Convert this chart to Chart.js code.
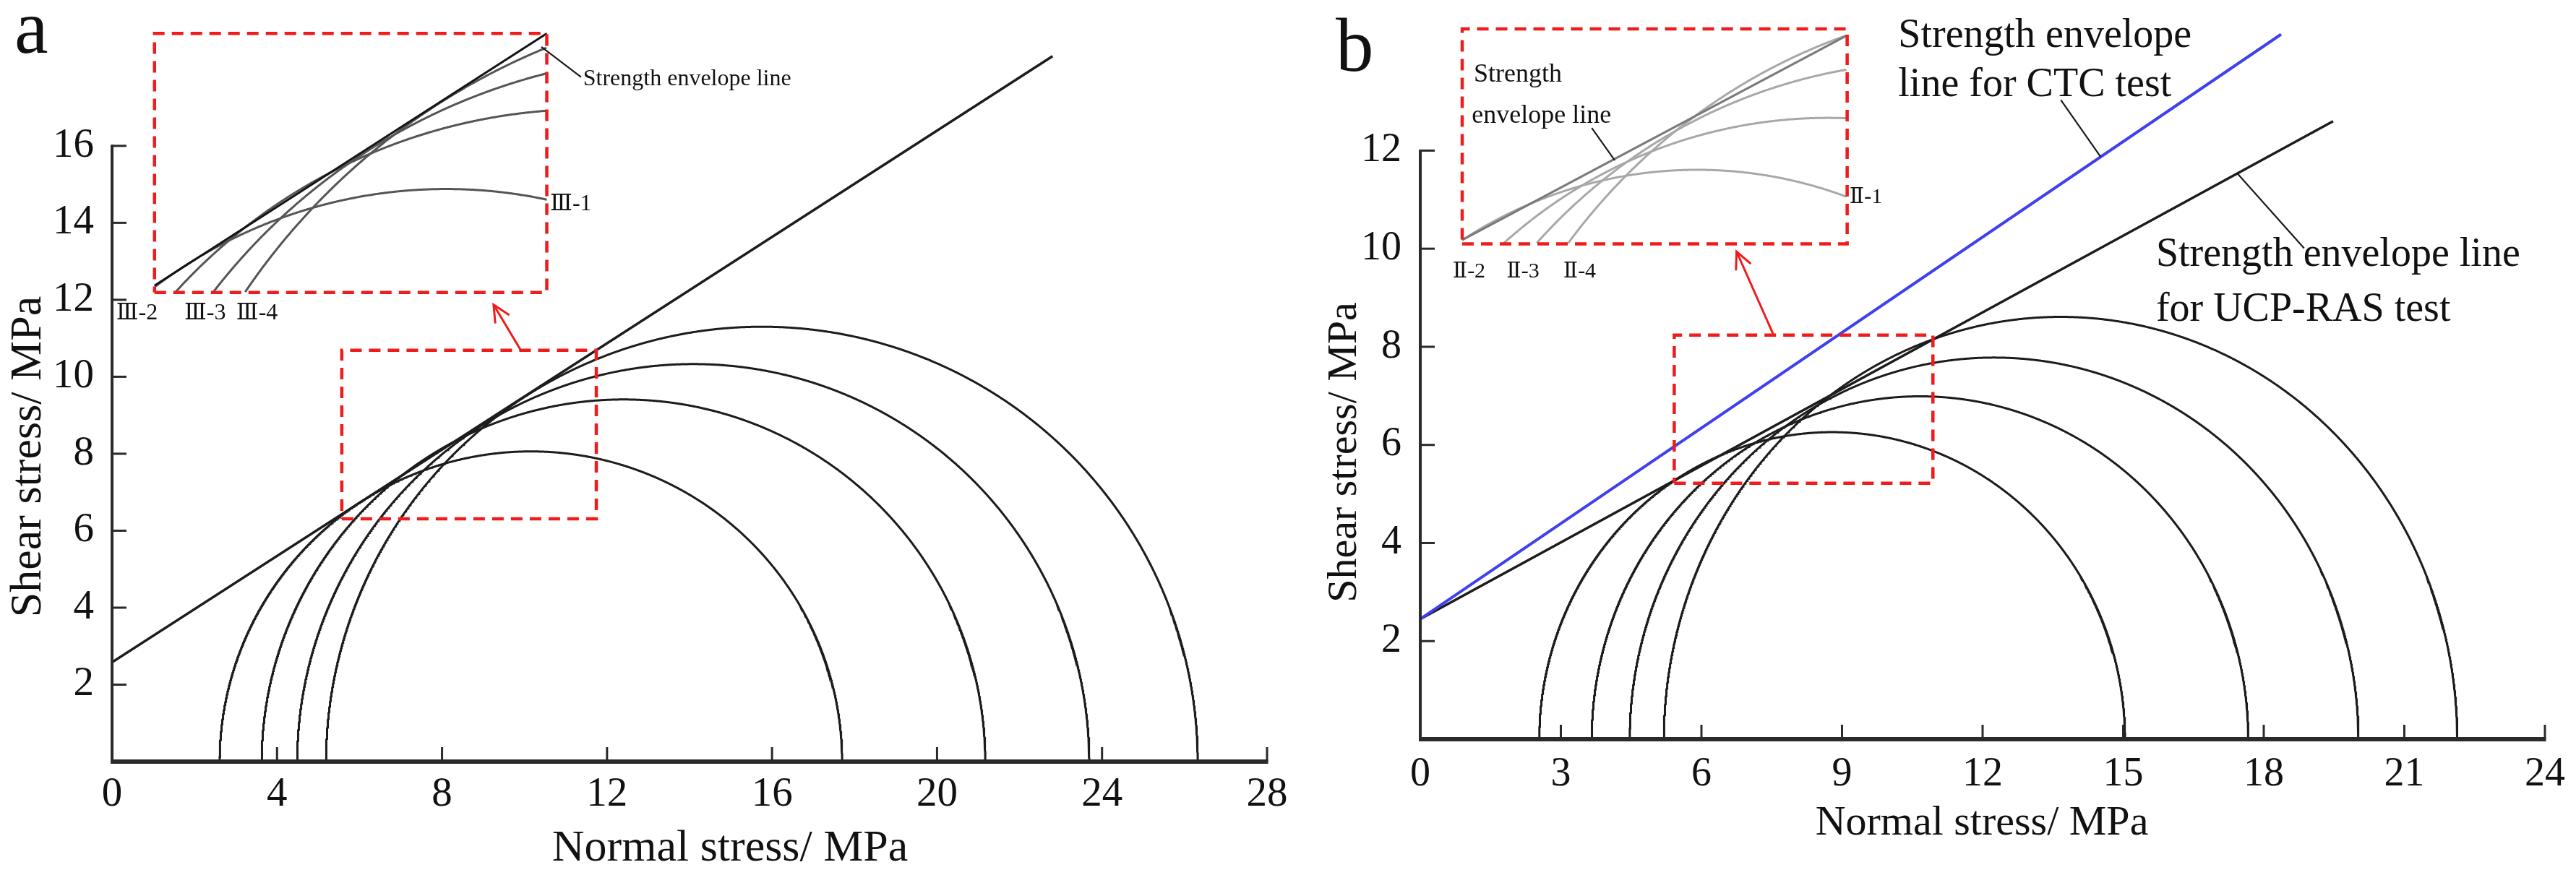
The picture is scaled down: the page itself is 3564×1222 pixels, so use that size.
<!DOCTYPE html>
<html>
<head>
<meta charset="utf-8">
<script src="https://cdn.jsdelivr.net/npm/chart.js@4.4.0/dist/chart.umd.min.js"></script>
<style>
  html, body { margin: 0; padding: 0; background: #fff; }
  #wrap { position: relative; width: 3564px; height: 1222px; }
  .panel { position: absolute; top: 0; width: 1782px; height: 1222px; }
</style>
</head>
<body>
<div id="wrap">
  <div class="panel" style="left:0"><canvas id="js-mohr-a"></canvas></div>
  <div class="panel" style="left:1782px"><canvas id="js-mohr-b"></canvas></div>
</div>
<script>
"use strict";

//パネルaのデータ
const xTicksA = [0, 4, 8, 12, 16, 20, 24, 28];
const yTicksA = [2, 4, 6, 8, 10, 12, 14, 16];
const sigma3A = [2.61, 3.63, 4.49, 5.19];
const sigma1A = [17.70, 21.17, 23.69, 26.32];
const tauPeakA = [8.06, 9.41, 10.33, 11.30];
const envelopeA = [[0, 2.58], [22.8, 18.33]];
const zoomBoxA = [5.57, 11.74, 6.31, 10.69]; // x0, x1, y0, y1
const insetBoxA = [1.03, 10.54, 12.19, 18.92];

//パネルbのデータ
const xTicksB = [0, 3, 6, 9, 12, 15, 18, 21, 24];
const yTicksB = [2, 4, 6, 8, 10, 12];
const sigma3B = [2.54, 3.66, 4.47, 5.20];
const sigma1B = [15.04, 17.67, 20.02, 22.13];
const tauPeakB = [6.26, 6.99, 7.78, 8.61];
const envelopeCTC = [[0, 2.45], [18.37, 14.37]];
const envelopeUCP = [[0, 2.45], [19.48, 12.60]];
const zoomBoxB = [5.42, 10.94, 5.22, 8.24];
const insetBoxB = [0.895, 9.11, 10.1, 14.48];

const SERIF = '"Liberation Serif", "Times New Roman", "DejaVu Serif", "Noto Sans CJK SC", serif';
const RED = "#ee1c1c";

// semicircle of a Mohr circle (sigma3 .. sigma1, height = peak)
function mohrArc(s3, s1, peak) {
  const c = (s1 + s3) / 2;
  const a = (s1 - s3) / 2;
  const pts = [];
  for (let i = 0; i <= 1440; i++) {
    const t = (Math.PI * i) / 1440;
    pts.push({ x: c - a * Math.cos(t), y: peak * Math.sin(t) });
  }
  return pts;
}

// Liang-Barsky clip of a segment to a box
function clipSegment(p, q, box) {
  let t0 = 0, t1 = 1;
  const dx = q[0] - p[0], dy = q[1] - p[1];
  const checks = [[-dx, p[0] - box[0]], [dx, box[1] - p[0]], [-dy, p[1] - box[2]], [dy, box[3] - p[1]]];
  for (const [pp, qq] of checks) {
    if (pp === 0) { if (qq < 0) return []; continue; }
    const r = qq / pp;
    if (pp < 0) { if (r > t1) return []; if (r > t0) t0 = r; }
    else { if (r < t0) return []; if (r < t1) t1 = r; }
  }
  return [{ x: p[0] + t0 * dx, y: p[1] + t0 * dy }, { x: p[0] + t1 * dx, y: p[1] + t1 * dy }];
}

// zoom: points inside "from" box are copied into "to" box
function mapToInset(pts, from, to) {
  const kx = (to[1] - to[0]) / (from[1] - from[0]);
  const ky = (to[3] - to[2]) / (from[3] - from[2]);
  const e = 1e-9;
  const out = [];
  pts.forEach((p) => {
    const inside = p.x >= from[0] - e && p.x <= from[1] + e && p.y >= from[2] - e && p.y <= from[3] + e;
    if (inside) {
      out.push({ x: to[0] + (p.x - from[0]) * kx, y: to[2] + (p.y - from[2]) * ky });
    } else if (out.length && !isNaN(out[out.length - 1].x)) {
      out.push({ x: NaN, y: NaN });
    }
  });
  return out;
}

function boxPath(b) {
  return [
    { x: b[0], y: b[2] }, { x: b[1], y: b[2] }, { x: b[1], y: b[3] },
    { x: b[0], y: b[3] }, { x: b[0], y: b[2] },
  ];
}

function toPts(arr) {
  return arr.map((p) => ({ x: p[0], y: p[1] }));
}

function lineSet(data, color, width, dash) {
  return {
    data: data,
    showLine: true,
    borderColor: color,
    borderWidth: width,
    borderDash: dash || [],
    borderCapStyle: "butt",
    pointRadius: 0,
    pointHoverRadius: 0,
    tension: 0,
    fill: false,
  };
}

function makeMohrChart(canvasId, p) {
  const arcs = p.s3.map((s, i) => mohrArc(s, p.s1[i], p.peak[i]));
  const datasets = [];
  datasets.push(lineSet(boxPath(p.zoomBox), RED, 4.5, [16, 10]));
  datasets.push(lineSet(boxPath(p.insetBox), RED, 4.5, [16, 10]));
  datasets.push(lineSet(toPts(p.arrow), RED, 3));
  p.leaders.forEach((l) => datasets.push(lineSet(toPts(l), "#1a1a1a", 2.2)));
  p.envelopes.forEach((env) => {
    const seg = clipSegment(env.pts[0], env.pts[1], p.zoomBox);
    if (env.inset) datasets.push(lineSet(mapToInset(seg, p.zoomBox, p.insetBox), env.insetColor, 3));
  });
  arcs.forEach((arc) => datasets.push(lineSet(mapToInset(arc, p.zoomBox, p.insetBox), p.insetArcColor, 3)));
  p.envelopes.forEach((env) => datasets.push(lineSet(toPts(env.pts), env.color, env.width)));
  arcs.forEach((arc) => datasets.push(lineSet(arc, "#1c1c1c", 3)));

  const mohrDecor = {
    id: "mohrDecor",
    afterDatasetsDraw(chart) {
      const ctx = chart.ctx;
      const x = chart.scales.x;
      const y = chart.scales.y;
      const x0 = x.getPixelForValue(p.xTicks[0]);
      const x1 = x.getPixelForValue(p.xTicks[p.xTicks.length - 1]);
      const y0 = y.getPixelForValue(0);
      const yTop = y.getPixelForValue(p.yTicks[p.yTicks.length - 1]);
      ctx.save();
      ctx.strokeStyle = "#2a2a2a";
      //軸
      ctx.lineWidth = 4;
      ctx.beginPath();
      ctx.moveTo(x0, y0);
      ctx.lineTo(x0, yTop - 1.5);
      ctx.stroke();
      ctx.lineWidth = 6;
      ctx.beginPath();
      ctx.moveTo(x0 - 2, y0);
      ctx.lineTo(x1 + 1.5, y0);
      ctx.stroke();
      //目盛り(内向き)
      ctx.lineWidth = 3;
      p.xTicks.forEach((v) => {
        const px = x.getPixelForValue(v);
        ctx.beginPath();
        ctx.moveTo(px, y0);
        ctx.lineTo(px, y0 - 20);
        ctx.stroke();
      });
      p.yTicks.forEach((v) => {
        const py = y.getPixelForValue(v);
        ctx.beginPath();
        ctx.moveTo(x0, py);
        ctx.lineTo(x0 + 20, py);
        ctx.stroke();
      });
      //矢印の先
      const ax0 = x.getPixelForValue(p.arrow[0][0]);
      const ay0 = y.getPixelForValue(p.arrow[0][1]);
      const ax1 = x.getPixelForValue(p.arrow[1][0]);
      const ay1 = y.getPixelForValue(p.arrow[1][1]);
      const ang = Math.atan2(ay1 - ay0, ax1 - ax0);
      ctx.strokeStyle = RED;
      ctx.lineWidth = 3;
      ctx.beginPath();
      ctx.moveTo(ax1 - 26 * Math.cos(ang - 0.45), ay1 - 26 * Math.sin(ang - 0.45));
      ctx.lineTo(ax1, ay1);
      ctx.lineTo(ax1 - 26 * Math.cos(ang + 0.45), ay1 - 26 * Math.sin(ang + 0.45));
      ctx.stroke();
      ctx.restore();
    },
    afterDraw(chart) {
      const ctx = chart.ctx;
      const x = chart.scales.x;
      const y = chart.scales.y;
      ctx.save();
      ctx.fillStyle = "#111";
      ctx.textAlign = "left";
      p.notes.forEach((n) => {
        ctx.font = (n.bold ? "bold " : "") + n.size + "px " + SERIF;
        ctx.textBaseline = n.baseline || "middle";
        ctx.fillText(n.text, x.getPixelForValue(n.x), y.getPixelForValue(n.y));
      });
      //軸タイトル
      ctx.textAlign = "center";
      ctx.textBaseline = "middle";
      ctx.font = p.xTitle.size + "px " + SERIF;
      ctx.fillText(p.xTitle.text, p.xTitle.x, p.xTitle.y);
      ctx.save();
      ctx.translate(p.yTitle.x, p.yTitle.y);
      ctx.rotate(-Math.PI / 2);
      ctx.font = p.yTitle.size + "px " + SERIF;
      ctx.fillText(p.yTitle.text, 0, 0);
      ctx.restore();
      ctx.textAlign = "left";
      ctx.textBaseline = "alphabetic";
      ctx.font = p.letter.size + "px " + SERIF;
      ctx.fillText(p.letter.text, p.letter.x, p.letter.y);
      ctx.restore();
    },
  };

  const ctx = document.getElementById(canvasId).getContext("2d");
  return new Chart(ctx, {
    type: "scatter",
    data: { datasets: datasets },
    options: {
      responsive: true,
      maintainAspectRatio: false,
      animation: false,
      devicePixelRatio: 1,
      events: [],
      layout: { padding: { left: 0, right: p.padRight, top: 0, bottom: 0 } },
      plugins: {
        legend: { display: false },
        tooltip: { enabled: false },
      },
      scales: {
        x: {
          type: "linear",
          min: p.xTicks[0],
          max: p.xTicks[p.xTicks.length - 1],
          afterBuildTicks: (s) => { s.ticks = p.xTicks.map((v) => ({ value: v })); },
          afterFit: (s) => { s.height = p.xAxisHeight; s.paddingLeft = 0; s.paddingRight = 0; },
          grid: { display: false },
          border: { display: false },
          ticks: {
            font: { family: SERIF, size: p.tickSize },
            color: "#111",
            padding: p.xPad,
            maxRotation: 0,
            autoSkip: false,
          },
        },
        y: {
          type: "linear",
          min: 0,
          max: p.yMax,
          afterBuildTicks: (s) => { s.ticks = p.yTicks.map((v) => ({ value: v })); },
          afterFit: (s) => { s.width = p.yAxisWidth; s.paddingTop = 0; s.paddingBottom = 0; },
          grid: { display: false },
          border: { display: false },
          ticks: {
            font: { family: SERIF, size: p.tickSize },
            color: "#111",
            padding: p.yPad,
            autoSkip: false,
          },
        },
      },
    },
    plugins: [mohrDecor],
  });
}

makeMohrChart("js-mohr-a", {
  xTicks: xTicksA, yTicks: yTicksA, yMax: 19.79,
  yAxisWidth: 155, xAxisHeight: 168, padRight: 29,
  tickSize: 57, xPad: 4, yPad: 17,
  s3: sigma3A, s1: sigma1A, peak: tauPeakA,
  envelopes: [{ pts: envelopeA, color: "#1c1c1c", width: 3.5, inset: true, insetColor: "#141414" }],
  zoomBox: zoomBoxA, insetBox: insetBoxA, insetArcColor: "#555555",
  arrow: [[9.91, 10.69], [9.25, 11.87]],
  leaders: [[[10.41, 18.57], [11.37, 17.79]]],
  notes: [
    { text: "Strength envelope line", x: 11.42, y: 17.73, size: 32 },
    { text: "Ⅲ-1", x: 10.62, y: 14.48, size: 32 },
    { text: "Ⅲ-2", x: 0.1, y: 11.65, size: 32 },
    { text: "Ⅲ-3", x: 1.75, y: 11.65, size: 32 },
    { text: "Ⅲ-4", x: 3.01, y: 11.65, size: 32 },
  ],
  xTitle: { text: "Normal stress/ MPa", x: 1010, y: 1175, size: 62 },
  yTitle: { text: "Shear stress/ MPa", x: 40, y: 632, size: 62 },
  letter: { text: "a", x: 20, y: 73, size: 105 },
});

makeMohrChart("js-mohr-b", {
  xTicks: xTicksB, yTicks: yTicksB, yMax: 15.07,
  yAxisWidth: 183, xAxisHeight: 199, padRight: 43,
  tickSize: 56, xPad: 8, yPad: 18,
  s3: sigma3B, s1: sigma1B, peak: tauPeakB,
  envelopes: [
    { pts: envelopeCTC, color: "#4040ee", width: 4, inset: false },
    { pts: envelopeUCP, color: "#1c1c1c", width: 3.5, inset: true, insetColor: "#7a7a7a" },
  ],
  zoomBox: zoomBoxB, insetBox: insetBoxB, insetArcColor: "#a8a8a8",
  arrow: [[7.54, 8.24], [6.75, 9.94]],
  leaders: [
    [[13.67, 13.03], [14.52, 11.87]],
    [[17.44, 11.53], [18.86, 10.01]],
    [[3.66, 12.46], [4.15, 11.80]],
  ],
  notes: [
    { text: "Strength envelope", x: 10.2, y: 14.11, size: 56, baseline: "alphabetic" },
    { text: "line for CTC test", x: 10.2, y: 13.11, size: 56, baseline: "alphabetic" },
    { text: "Strength envelope line", x: 15.7, y: 9.65, size: 56, baseline: "alphabetic" },
    { text: "for UCP-RAS test", x: 15.7, y: 8.53, size: 56, baseline: "alphabetic" },
    { text: "Strength", x: 1.14, y: 13.40, size: 36, baseline: "alphabetic" },
    { text: "envelope line", x: 1.10, y: 12.56, size: 36, baseline: "alphabetic" },
    { text: "Ⅱ-1", x: 9.16, y: 11.05, size: 30 },
    { text: "Ⅱ-2", x: 0.69, y: 9.53, size: 30 },
    { text: "Ⅱ-3", x: 1.84, y: 9.53, size: 30 },
    { text: "Ⅱ-4", x: 3.05, y: 9.53, size: 30 },
  ],
  xTitle: { text: "Normal stress/ MPa", x: 960, y: 1140, size: 58 },
  yTitle: { text: "Shear stress/ MPa", x: 79, y: 626, size: 58 },
  letter: { text: "b", x: 66, y: 98, size: 105 },
});
</script>
</body>
</html>
